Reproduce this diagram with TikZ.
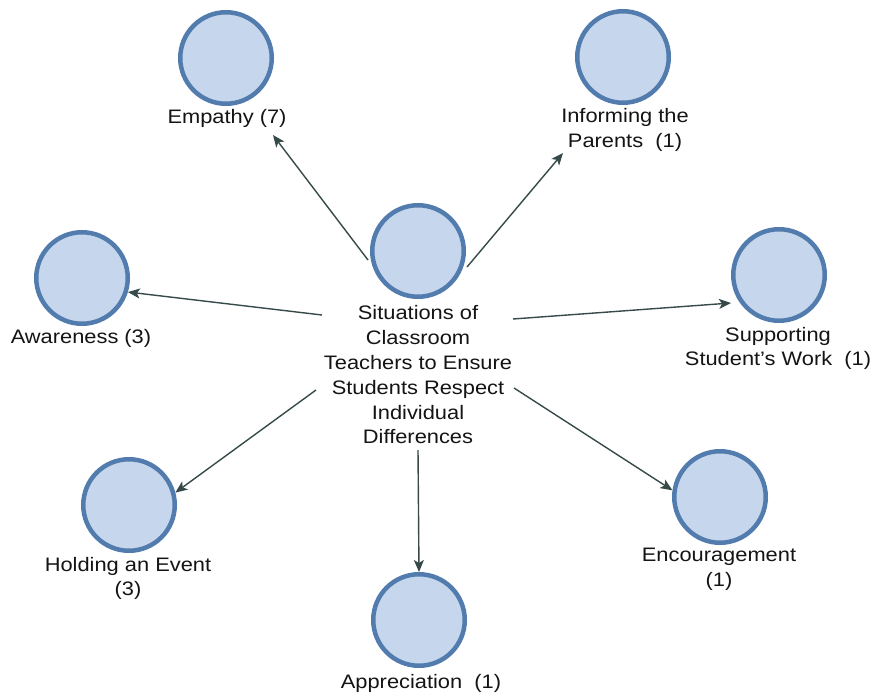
\documentclass[tikz,border=0pt]{standalone}
\usepackage{fontspec}
\setmainfont{Liberation Sans}[FakeStretch=1.12]
\usetikzlibrary{arrows.meta}
\definecolor{bubblefill}{RGB}{198,214,236}
\definecolor{bubbleline}{RGB}{82,124,174}
\definecolor{linkcol}{RGB}{55,74,74}
\definecolor{labelcol}{RGB}{20,20,20}
\begin{document}
\begin{tikzpicture}[x=1pt,y=-1pt,
  bubble/.style={circle,draw=bubbleline,fill=bubblefill,line width=4.5pt,
    minimum size=91.5pt,inner sep=0pt},
  lbl/.style={text=labelcol,align=center,inner sep=0pt,
    font=\fontsize{19.5}{24.8}\selectfont},
  link/.style={draw=linkcol,line width=1.4pt,
    -{Stealth[length=12pt,width=10pt,inset=3pt]}}]
\fill[white] (0,0) rectangle (874,693);
\useasboundingbox (0,0) rectangle (874,693);

% circles
\node[bubble] (hub)    at (418,251) {};
\node[bubble] (emp)    at (226,58)  {};
\node[bubble] (inform) at (623,57)  {};
\node[bubble] (aware)  at (82,278)  {};
\node[bubble] (supp)   at (779,275) {};
\node[bubble] (hold)   at (129,505) {};
\node[bubble] (enc)    at (720,497) {};
\node[bubble] (appr)   at (419,620) {};

% captions
\node[lbl] (hubL)    at (418,375) {Situations of\\Classroom\\Teachers to Ensure\\Students Respect\\Individual\\Differences};
\node[lbl] (empL)    at (227,118) {Empathy (7)};
\node[lbl] (informL) at (625,130) {Informing the\\Parents\ \ (1)};
\node[lbl] (awareL)  at (81,338)  {Awareness (3)};
\node[lbl] (suppL)   at (778,348.5) {Supporting\\Student's Work\ \ (1)};
\node[lbl] (holdL)   at (128,578.5) {Holding an Event\\(3)};
\node[lbl] (encL)    at (719,569.5) {Encouragement\\(1)};
\node[lbl] (apprL)   at (421,683) {Appreciation\ \ (1)};

% connector ends
\coordinate (s1) at (368,260);
\coordinate (t1) at (273,135);
\coordinate (s2) at (467,267);
\coordinate (t2) at (563,153);
\coordinate (s3) at (322,315);
\coordinate (s4) at (513,319);
\coordinate (t4) at (731,303);
\coordinate (s5) at (316,390);
\coordinate (s6) at (514,388);
\coordinate (s7) at (418,450);

% connectors
\draw[link] (s1) -- (t1);
\draw[link] (s2) -- (t2);
\draw[link] (s3) -- (aware.-17);
\draw[link] (s4) -- (t4);
\draw[link] (s5) -- (hold.15);
\draw[link] (s6) -- (enc.172);
\draw[link] (s7) -- (appr.north);
\end{tikzpicture}
\end{document}
